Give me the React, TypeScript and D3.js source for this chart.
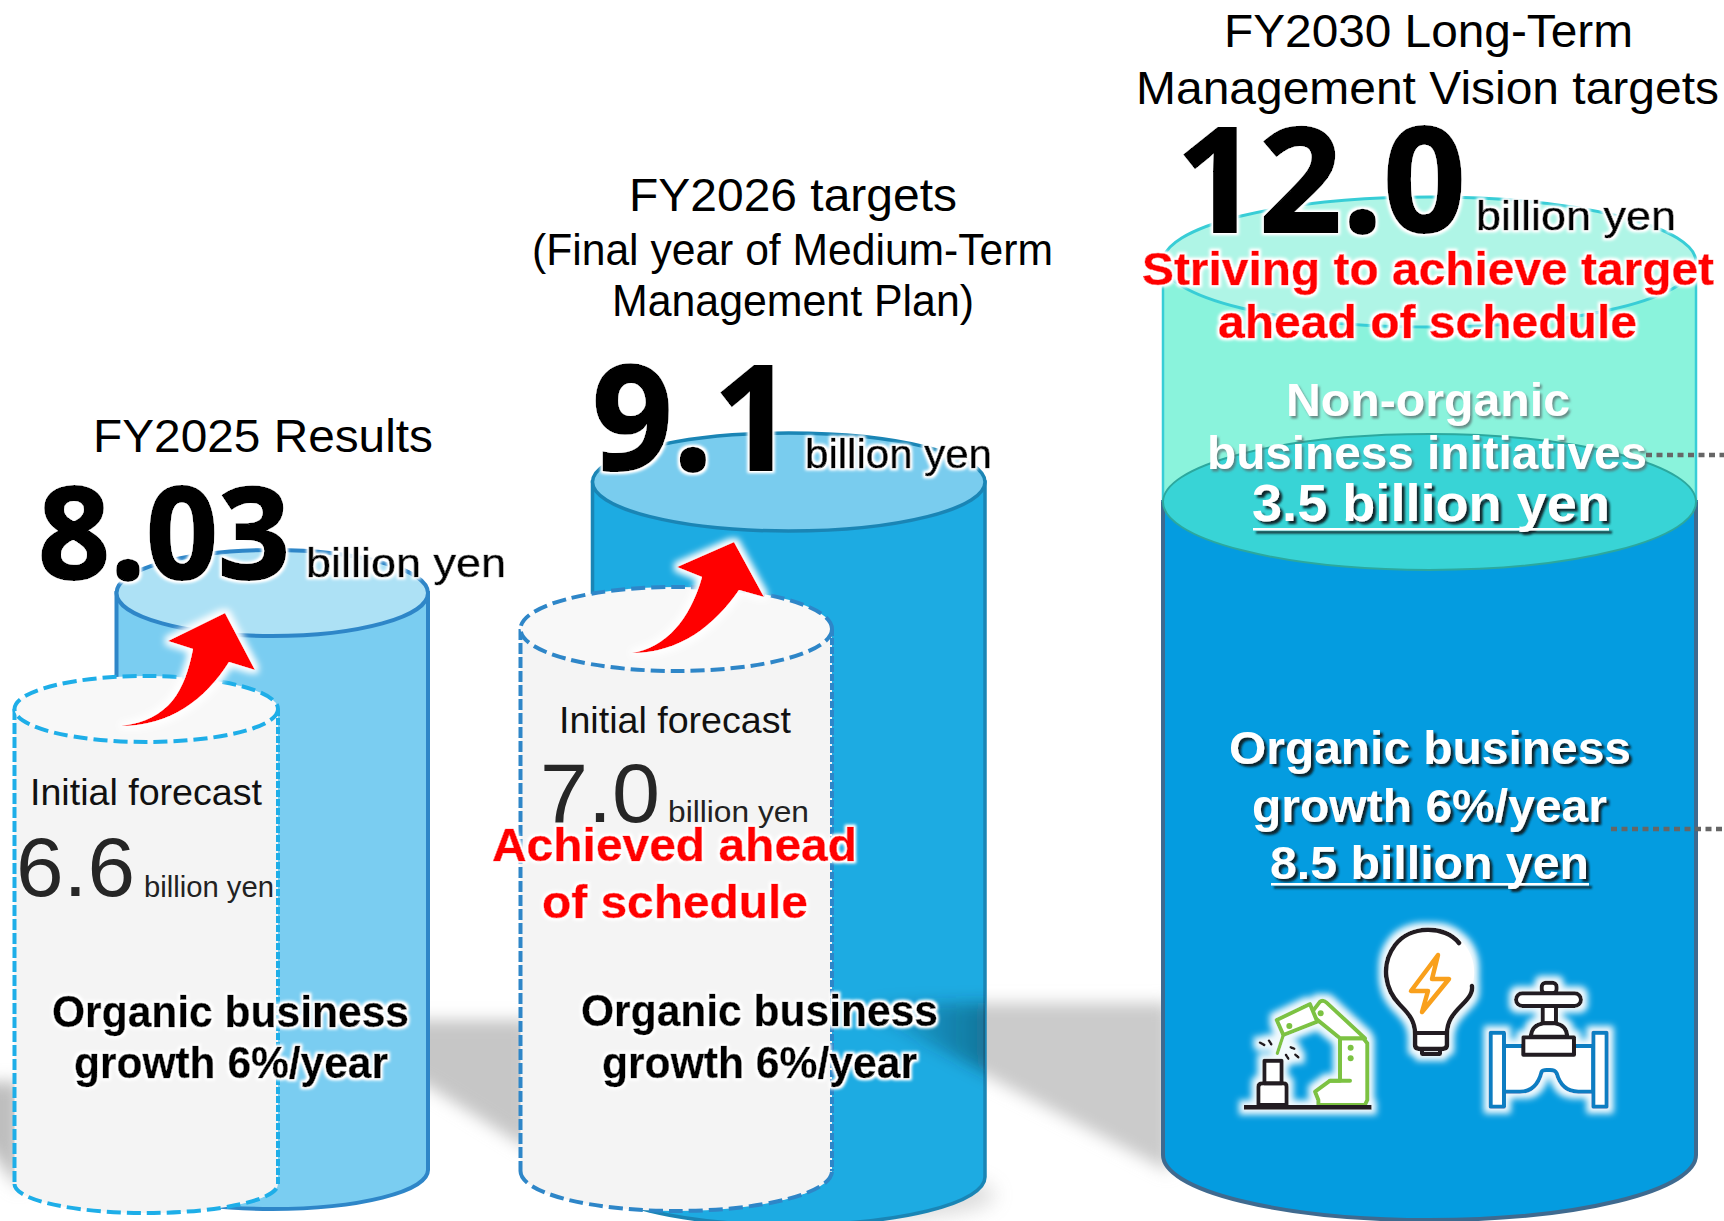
import React from "react";
import * as d3 from "d3";

// ---- data ----
const resultValues = [8.03, 9.1, 12.0];
const forecastValues = [6.6, 7.0];
const organicValue = 8.5;
const nonOrganicValue = 3.5;
const unit = "billion yen";
const titles = ["FY2025 Results", "FY2026 targets", "(Final year of Medium-Term", "Management Plan)", "FY2030 Long-Term", "Management Vision targets"];
const forecastLabel = "Initial forecast";
const organicLines = ["Organic business", "growth 6%/year"];
const achievedLines = ["Achieved ahead", "of schedule"];
const strivingLines = ["Striving to achieve target", "ahead of schedule"];
const nonOrganicLines = ["Non-organic", "business initiatives"];

// ---- layout ----
const W = 1724, H = 1221;
// The original graphic is not drawn to a linear scale: this piecewise scale carries its stops.
const yTop = d3.scaleLinear()
  .domain([forecastValues[0], forecastValues[1], resultValues[0], organicValue, resultValues[1], resultValues[2]])
  .range([709, 629, 593, 502, 482, 262]);

const SANS = "'Liberation Sans', Arial, sans-serif";
const BIG = "'Open Sans', 'Noto Sans', sans-serif";

function cylBody(x0: number, x1: number, top: number, sideEnd: number, ryB: number) {
  const rx = (x1 - x0) / 2;
  return `M${x0},${top} V${sideEnd} A${rx},${ryB} 0 0 0 ${x1},${sideEnd} V${top} Z`;
}
function ell(x0: number, x1: number, cy: number, ry: number) {
  return { cx: (x0 + x1) / 2, cy, rx: (x1 - x0) / 2, ry };
}

function Cyl({ x0, x1, value, ry, sideEnd, ryB, fill, topFill, stroke, sw = 4 }: any) {
  const top = yTop(value);
  return (
    <g>
      <path d={cylBody(x0, x1, top, sideEnd, ryB)} fill={fill} stroke={stroke} strokeWidth={sw} />
      <ellipse {...ell(x0, x1, top, ry)} fill={topFill} stroke={stroke} strokeWidth={sw} />
    </g>
  );
}

function Forecast({ x0, x1, value, ry, sideEnd, ryB, stroke }: any) {
  const top = yTop(value);
  const rx = (x1 - x0) / 2;
  return (
    <g>
      <path d={cylBody(x0, x1, top, sideEnd, ryB)} fill="#F4F4F4" />
      <path d={`M${x0},${top} V${sideEnd}`} stroke={stroke} strokeWidth={4} strokeDasharray="11 3" fill="none" />
      <path d={`M${x1},${top} V${sideEnd}`} stroke={stroke} strokeWidth={4} strokeDasharray="7 2" fill="none" />
      <path d={`M${x0},${sideEnd} A${rx},${ryB} 0 0 0 ${x1},${sideEnd}`} stroke={stroke} strokeWidth={4} strokeDasharray="14 6" fill="none" />
      <ellipse {...ell(x0, x1, top, ry)} fill="#F8F8F8" stroke={stroke} strokeWidth={4} strokeDasharray="14 6" />
    </g>
  );
}

function T({ s, x0, x1, y, size, bold, fill = "#000", family = SANS, filter, heavy = 0 }: any) {
  return (
    <text x={x0} y={y} fontFamily={family} fontSize={size} fontWeight={bold ? 700 : 400} fill={fill}
      stroke={heavy ? fill : undefined} strokeWidth={heavy || undefined}
      textLength={x1 - x0} lengthAdjust="spacingAndGlyphs" filter={filter ? `url(#${filter})` : undefined}>{s}</text>
  );
}

const fmt1 = (v: number) => v.toFixed(1);

function Robot() {
  const g = "#7CC242", k = "#231F20";
  return (
    <g transform="translate(1230,910) scale(0.3333)" strokeLinejoin="round" strokeLinecap="round">
      <path d="M85,585 V530 Q85,520 100,520 H160 Q170,520 170,530 V585 Z" fill="#fff" stroke={k} strokeWidth={12} />
      <rect x={103} y={452} width={52} height={68} fill="#fff" stroke={k} strokeWidth={12} />
      <path d="M265,585 V570 L255,545 L300,512 H330 V385 H400 L412,400 V570 L405,585 Z" fill="#fff" stroke={g} strokeWidth={12} />
      <path d="M300,512 H360" stroke={g} strokeWidth={12} fill="none" />
      <path d="M247,305 L270,275 Q280,268 290,278 L405,385 H330 L250,320 Z" fill="#fff" stroke={g} strokeWidth={12} />
      <path d="M140,330 L240,282 L262,335 L160,375 Z" fill="#fff" stroke={g} strokeWidth={12} />
      <path d="M160,375 L142,430" stroke={g} strokeWidth={10} fill="none" />
      <circle cx={178} cy={348} r={9} fill={g} />
      <circle cx={272} cy={310} r={9} fill={g} />
      <circle cx={362} cy={413} r={9} fill={g} />
      <circle cx={362} cy={445} r={9} fill={g} />
      <path d="M42,592 H425" stroke={k} strokeWidth={14} strokeLinecap="butt" />
      <path d="M90,398 L103,405 M117,392 L124,403 M182,412 L193,416 M168,435 L175,446 M196,434 L205,442" stroke={k} strokeWidth={8} fill="none" />
    </g>
  );
}

function Bulb() {
  const k = "#231F20", o = "#F9A01B";
  return (
    <g strokeLinejoin="round" strokeLinecap="round">
      <path d="M1415,1047 V1034 C1415,1022 1410,1015 1400,1005 C1385,990 1380,965 1395,945 C1410,925 1450,925 1465,945 C1480,965 1475,990 1462,1005 C1452,1015 1447,1022 1447,1034 V1047 Z" fill="#fff" />
      <path d="M1459,943 C1445,925 1410,925 1395,945 C1380,965 1385,990 1400,1005 C1410,1015 1415,1022 1415,1034 V1045 Q1415,1049 1420,1049 H1442 Q1447,1049 1447,1045 V1034 C1447,1022 1452,1015 1462,1005 C1470,997 1473,992 1472,986" fill="none" stroke={k} strokeWidth={4.5} />
      <path d="M1415,1033 H1447 M1422,1049 V1054 H1440 V1049" fill="none" stroke={k} strokeWidth={4} />
      <path d="M1438,955 L1411,991 H1428 L1422,1012 L1449,979 H1432 Z" fill="none" stroke={o} strokeWidth={4.5} />
    </g>
  );
}

function Valve() {
  const k = "#231F20", b = "#0F7DC2";
  return (
    <g transform="translate(1440,960) scale(0.3333)" strokeLinejoin="round">
      <path d="M192,258 H460 V395 H415 Q365,395 350,340 Q345,330 330,330 H320 Q308,330 305,335 Q290,395 240,395 H192 Z" fill="#fff" stroke={b} strokeWidth={12} />
      <rect x={152} y={218} width={40} height={222} fill="#fff" stroke={b} strokeWidth={12} />
      <rect x={460} y={218} width={40} height={222} fill="#fff" stroke={b} strokeWidth={12} />
      <rect x={305} y={68} width={45} height={32} rx={12} fill="#fff" stroke={k} strokeWidth={12} />
      <rect x={308} y={138} width={40} height={52} fill="#fff" stroke={k} strokeWidth={12} />
      <rect x={228} y={100} width={195} height={38} rx={19} fill="#fff" stroke={k} strokeWidth={12} />
      <path d="M272,230 Q275,195 310,190 H345 Q380,195 382,230 Z" fill="#fff" stroke={k} strokeWidth={12} />
      <rect x={250} y={232} width={152} height={52} fill="#fff" stroke={k} strokeWidth={12} />
    </g>
  );
}

export default function App() {
  const big = { bold: true, family: BIG, filter: "glow", heavy: 2 };
  return (
    <svg width={W} height={H} viewBox={`0 0 ${W} ${H}`} style={{ position: "absolute", left: 0, top: 0, display: "block", background: "#fff" }}>
      <defs>
        <filter id="glow" x="-20%" y="-40%" width="140%" height="180%">
          <feMorphology in="SourceAlpha" operator="dilate" radius={1.5} />
          <feGaussianBlur stdDeviation={1.8} />
          <feComponentTransfer result="a"><feFuncA type="linear" slope={1.2} /></feComponentTransfer>
          <feFlood floodColor="#fff" />
          <feComposite in2="a" operator="in" />
          <feMerge><feMergeNode /><feMergeNode in="SourceGraphic" /></feMerge>
        </filter>
        <filter id="iconGlow" x="-20%" y="-20%" width="140%" height="140%">
          <feMorphology in="SourceAlpha" operator="dilate" radius={5} />
          <feGaussianBlur stdDeviation={3} result="a" />
          <feFlood floodColor="#fff" floodOpacity={0.95} />
          <feComposite in2="a" operator="in" />
          <feMerge><feMergeNode /><feMergeNode in="SourceGraphic" /></feMerge>
        </filter>
        <filter id="arrowGlow" x="-30%" y="-30%" width="160%" height="160%">
          <feMorphology in="SourceAlpha" operator="dilate" radius={3.5} />
          <feGaussianBlur stdDeviation={3} result="a" />
          <feFlood floodColor="#fff" />
          <feComposite in2="a" operator="in" />
          <feMerge><feMergeNode /><feMergeNode in="SourceGraphic" /></feMerge>
        </filter>
        <filter id="shadowGray" x="-10%" y="-10%" width="120%" height="130%">
          <feDropShadow dx={2} dy={2.5} stdDeviation={1} floodColor="#5a6a6a" floodOpacity={0.75} />
        </filter>
        <filter id="shadowDark" x="-10%" y="-10%" width="120%" height="130%">
          <feDropShadow dx={3} dy={3} stdDeviation={1} floodColor="#0b1a24" floodOpacity={0.95} />
        </filter>
        <filter id="blur7" x="-30%" y="-30%" width="160%" height="160%"><feGaussianBlur stdDeviation={8} /></filter>
        <filter id="blur10" x="-30%" y="-30%" width="160%" height="160%"><feGaussianBlur stdDeviation={10} /></filter>
        <linearGradient id="darkFade" x1="0" x2="1" y1="0" y2="0">
          <stop offset="0" stopColor="#103040" stopOpacity={0} />
          <stop offset="1" stopColor="#103040" stopOpacity={0.48} />
        </linearGradient>
        <clipPath id="cyl2Clip"><path d={cylBody(592, 985, yTop(resultValues[1]), 1177, 48)} /></clipPath>
      </defs>

      {/* floor shadows */}
      <path d="M-40,1082 H20 V1190 L-10,1150 L-40,1125 Z" fill="#BEBEBE" filter="url(#blur7)" />
      <path d="M400,1020 H530 V1150 L428,1086 L400,1073 Z" fill="#C6C6C6" filter="url(#blur7)" />
      <path d="M970,1003 H1170 V1172 L985,1075 L970,1068 Z" fill="#CBCBCB" filter="url(#blur7)" />
      <ellipse cx={880} cy={1195} rx={115} ry={24} fill="#999" opacity={0.35} filter="url(#blur10)" />

      {/* FY2025 */}
      <Cyl x0={116.5} x1={428} value={resultValues[0]} ry={43} sideEnd={1170} ryB={39} fill="#7ACDF1" topFill="#ADE1F5" stroke="#2E86C8" />
      <Forecast x0={14.5} x1={278} value={forecastValues[0]} ry={33} sideEnd={1184} ryB={29} stroke="#1EAEE8" />

      {/* FY2026 */}
      <Cyl x0={592.5} x1={985} value={resultValues[1]} ry={49} sideEnd={1177} ryB={48} fill="#1DABE2" topFill="#79CCEE" stroke="#1A85B5" sw={3.5} />
      <g clipPath="url(#cyl2Clip)">
        <path d="M860,1003 H1000 V1078 L985,1072 L900,1030 L860,1015 Z" fill="url(#darkFade)" filter="url(#blur7)" />
      </g>
      <Forecast x0={520.5} x1={832} value={forecastValues[1]} ry={42} sideEnd={1171} ryB={40} stroke="#2E86C8" />

      {/* FY2030 */}
      <path d={cylBody(1163, 1696, yTop(organicValue), 1155, 65)} fill="#049CE0" stroke="#3F6A8F" strokeWidth={4} />
      <path d={`M1163,${yTop(organicValue)} V${yTop(resultValues[2])} H1696 V${yTop(organicValue)} Z`} fill="#8AF3DC" />
      <path d={`M1163,${yTop(organicValue)} V${yTop(resultValues[2])} M1696,${yTop(resultValues[2])} V${yTop(organicValue)}`} stroke="#38CDD6" strokeWidth={2.5} fill="none" />
      <ellipse {...ell(1163, 1696, yTop(resultValues[2]), 65)} fill="#AFF5E6" stroke="#38CDD6" strokeWidth={3} />
      <ellipse {...ell(1163, 1696, yTop(organicValue), 68)} fill="#38D4D6" stroke="#2CA89E" strokeWidth={2} />

      {/* arrows */}
      <path d="M121,726 C170,720 185,690 193,649 L168,641 L225,613 L255,670 L229,662 C205,700 170,726 121,726 Z" fill="#FF0000" filter="url(#arrowGlow)" />
      <path d="M632,653 C665,648 690,620 702,577 L677,567 L734,542 L764,597 L739,590 C715,625 680,653 632,653 Z" fill="#FF0000" filter="url(#arrowGlow)" />

      {/* leader lines */}
      <path d="M1646,455 H1724" stroke="#666" strokeWidth={4.5} strokeDasharray="6 4.5" fill="none" />
      <path d="M1611,829 H1724" stroke="#666" strokeWidth={4.5} strokeDasharray="6 4.5" fill="none" />

      {/* FY2025 text */}
      <T s={titles[0]} x0={93} x1={433} y={452} size={47} />
      <T s={resultValues[0].toFixed(2)} x0={38} x1={290} y={579} size={128} {...big} />
      <T s={unit} x0={306} x1={506} y={577} size={41} filter="glow" heavy={0.7} />
      <T s={forecastLabel} x0={30} x1={262} y={805} size={36} fill="#111" />
      <T s={fmt1(forecastValues[0])} x0={16} x1={135} y={896} size={84} fill="#262626" />
      <T s={unit} x0={144} x1={274} y={897} size={30} fill="#222" />
      <T s={organicLines[0]} x0={52} x1={409} y={1027} size={44} bold filter="glow" heavy={0.5} />
      <T s={organicLines[1]} x0={74} x1={388} y={1078} size={44} bold filter="glow" heavy={0.5} />

      {/* FY2026 text */}
      <T s={titles[1]} x0={629} x1={957} y={211} size={47} />
      <T s={titles[2]} x0={532} x1={1053} y={265} size={44} />
      <T s={titles[3]} x0={612} x1={974} y={316} size={44} />
      <T s={fmt1(resultValues[1])} x0={592} x1={794} y={470} size={146} {...big} />
      <T s={unit} x0={805} x1={992} y={468} size={41} filter="glow" heavy={0.7} />
      <T s={forecastLabel} x0={559} x1={791} y={733} size={36} fill="#111" />
      <T s={fmt1(forecastValues[1])} x0={540} x1={660} y={822} size={84} fill="#262626" />
      <T s={unit} x0={668} x1={809} y={822} size={30} fill="#222" />
      <T s={achievedLines[0]} x0={492} x1={857} y={861} size={47} bold fill="#FF0000" filter="glow" heavy={0.6} />
      <T s={achievedLines[1]} x0={542} x1={808} y={918} size={47} bold fill="#FF0000" filter="glow" heavy={0.6} />
      <T s={organicLines[0]} x0={581} x1={938} y={1026} size={44} bold filter="glow" heavy={0.5} />
      <T s={organicLines[1]} x0={602} x1={917} y={1078} size={44} bold filter="glow" heavy={0.5} />

      {/* FY2030 text */}
      <T s={titles[4]} x0={1224} x1={1633} y={47} size={47} />
      <T s={titles[5]} x0={1136} x1={1719} y={104} size={47} />
      <T s={fmt1(resultValues[2])} x0={1176} x1={1466} y={232} size={146} {...big} />
      <T s={unit} x0={1476} x1={1676} y={230} size={41} filter="glow" heavy={0.7} />
      <T s={strivingLines[0]} x0={1142} x1={1714} y={285} size={47} bold fill="#FF0000" filter="glow" heavy={0.6} />
      <T s={strivingLines[1]} x0={1218} x1={1637} y={338} size={47} bold fill="#FF0000" filter="glow" heavy={0.6} />
      <T s={nonOrganicLines[0]} x0={1286} x1={1570} y={416} size={47} bold fill="#fff" filter="shadowGray" />
      <T s={nonOrganicLines[1]} x0={1207} x1={1647} y={469} size={47} bold fill="#fff" filter="shadowGray" />
      <g filter="url(#shadowDark)">
        <T s={`${fmt1(nonOrganicValue)} ${unit}`} x0={1252} x1={1610} y={521} size={52} bold fill="#fff" />
        <rect x={1253} y={528} width={356} height={2.5} fill="#fff" />
      </g>
      <g filter="url(#shadowDark)">
        <T s={organicLines[0]} x0={1229} x1={1631} y={764} size={47} bold fill="#fff" />
        <T s={organicLines[1]} x0={1252} x1={1607} y={822} size={47} bold fill="#fff" />
        <T s={`${fmt1(organicValue)} ${unit}`} x0={1270} x1={1589} y={879} size={47} bold fill="#fff" />
        <rect x={1271} y={883} width={318} height={2.5} fill="#fff" />
      </g>

      {/* icons */}
      <g filter="url(#iconGlow)"><Robot /></g>
      <g filter="url(#iconGlow)"><Bulb /></g>
      <g filter="url(#iconGlow)"><Valve /></g>
    </svg>
  );
}
